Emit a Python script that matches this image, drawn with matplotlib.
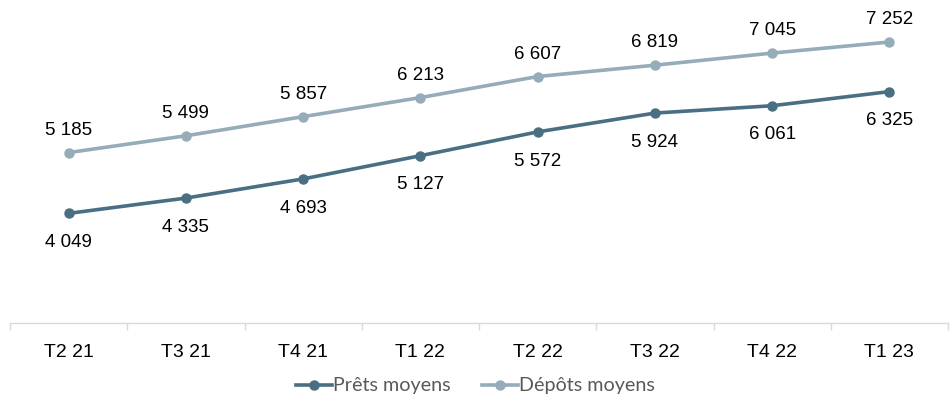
import matplotlib
matplotlib.use("Agg")
import matplotlib.pyplot as plt
from matplotlib.ticker import FixedLocator, NullFormatter

categories = ["T2 21", "T3 21", "T4 21", "T1 22", "T2 22", "T3 22", "T4 22", "T1 23"]
prets = [4049, 4335, 4693, 5127, 5572, 5924, 6061, 6325]
depots = [5185, 5499, 5857, 6213, 6607, 6819, 7045, 7252]

dark = "#4A6F83"
light = "#95ACB9"

def fmt(v):
    return f"{v:,}".replace(",", " ")

fig = plt.figure(figsize=(9.51, 3.98), dpi=100)
ax = fig.add_axes([10 / 951, 75 / 398, 938 / 951, 321 / 398])

x = list(range(len(categories)))
ax.plot(x, prets, color=dark, lw=2.6, marker="o", ms=6.5, label="Prêts moyens", zorder=3)
ax.plot(x, depots, color=light, lw=2.6, marker="o", ms=6.5, label="Dépôts moyens", zorder=3)

for xi, v in zip(x, depots):
    ax.annotate(fmt(v), (xi, v), xytext=(0, 16), textcoords="offset points",
                ha="center", va="center", fontsize=13.5, color="#000000",
                family="Liberation Sans")
for xi, v in zip(x, prets):
    ax.annotate(fmt(v), (xi, v), xytext=(0, -21), textcoords="offset points",
                ha="center", va="center", fontsize=13.5, color="#000000",
                family="Liberation Sans")

ax.set_xlim(-0.5, len(categories) - 0.5)
ax.set_ylim(2000, 8000)
ax.set_yticks([])
for s in ["top", "right", "left"]:
    ax.spines[s].set_visible(False)
ax.spines["bottom"].set_color("#D9D9D9")
ax.spines["bottom"].set_linewidth(1.0)

ax.xaxis.set_major_locator(FixedLocator(x))
ax.set_xticklabels(categories, fontsize=14, family="Liberation Sans", color="#000000")
ax.tick_params(axis="x", which="major", length=0, pad=15)
ax.xaxis.set_minor_locator(FixedLocator([i - 0.5 for i in range(len(categories) + 1)]))
ax.xaxis.set_minor_formatter(NullFormatter())
ax.tick_params(axis="x", which="minor", length=5, color="#D9D9D9", width=1.0)

leg = fig.legend(loc="center", bbox_to_anchor=(0.5, 12 / 398), ncol=2, frameon=False,
                 prop={"family": "Lato", "size": 14.2}, handlelength=1.8,
                 handletextpad=0.05, columnspacing=1.6, labelcolor="#595959")

fig.savefig("out.png", dpi=100)
